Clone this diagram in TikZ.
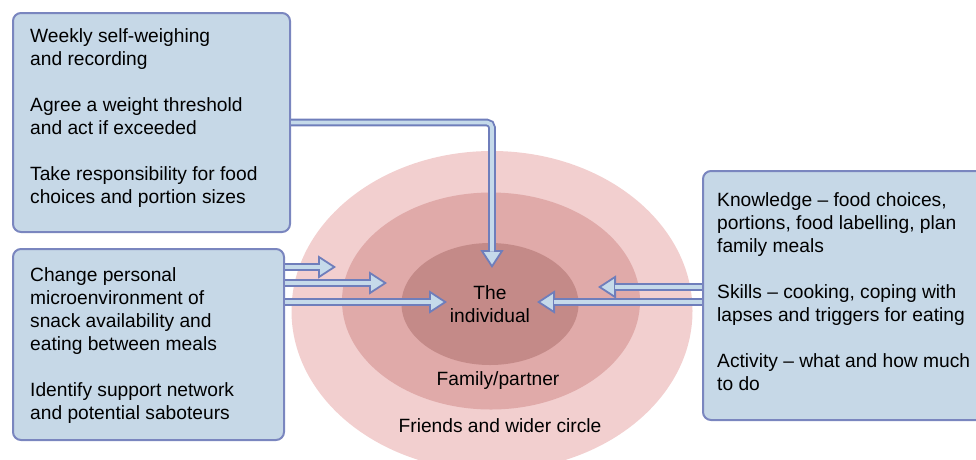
\documentclass[tikz,border=0pt]{standalone}
\usepackage{fontspec}
\setmainfont{Liberation Sans}
\usetikzlibrary{arrows.meta,shapes.geometric}
\definecolor{boxfill}{HTML}{C6D8E7}
\definecolor{boxline}{HTML}{7A86BF}
\definecolor{arrfill}{HTML}{C5DAEA}
\definecolor{arrline}{HTML}{6F7EBB}
\definecolor{ringout}{HTML}{F2CFCF}
\definecolor{ringmid}{HTML}{E0AAA9}
\definecolor{ringin}{HTML}{C48A88}

\begin{document}
\begin{tikzpicture}
		[x=1pt,y=-1pt,
		font=\fontsize{19.2}{23}\selectfont,
		ring/.style={ellipse,inner sep=0pt},
		panel/.style={draw=boxline,line width=2pt,fill=boxfill,rounded corners=8pt,inner sep=0pt,anchor=north west},
		paneltext/.style={anchor=north west,align=left,inner sep=0pt},
		flow/.style={draw=arrline,line width=7.6pt,-{Triangle[length=18pt 0 0,width=23pt 0 0,line width=1.8pt 0,fill=arrfill]},
			postaction={draw=arrfill,line width=3.8pt,-,shorten >=16.5pt}}]
		\useasboundingbox (0,0) rectangle (976,459);
		\node[ring,fill=ringout,minimum width=401,minimum height=320] (friends) at (492,311) {};
		\node[ring,fill=ringmid,minimum width=298,minimum height=217] (family) at (491,301) {};
		\node[ring,fill=ringin,minimum width=177,minimum height=122,align=center] (self) at (490,304) {The\\individual};
		\node (familytxt) at (498,381) {Family/partner};
		\node (friendstxt) at (500,426) {Friends and wider circle};
		\node[panel,minimum width=277,minimum height=219] (weigh) at (12,12) {};
		\node[panel,minimum width=271,minimum height=191] (envir) at (12,248) {};
		\node[panel,minimum width=300,minimum height=249] (skill) at (702,170) {};
		\node[paneltext] (weightxt) at (30,28) {Weekly self-weighing\\and recording\\[23pt]Agree a weight threshold\\and act if exceeded\\[23pt]Take responsibility for food\\choices and portion sizes};
		\node[paneltext] (envirtxt) at (30,267) {Change personal\\microenvironment of\\snack availability and\\eating between meals\\[23pt]Identify support network\\and potential saboteurs};
		\node[paneltext] (skilltxt) at (717,192) {Knowledge -- food choices,\\portions, food labelling, plan\\family meals\\[23pt]Skills -- cooking, coping with\\lapses and triggers for eating\\[23pt]Activity -- what and how much\\to do};
		\coordinate (w1) at (492,268);
		\coordinate (e1) at (336,267);
		\coordinate (e2) at (387,283);
		\coordinate (e3) at (447,302);
		\coordinate (s1) at (598,287);
		\coordinate (s2) at (537,302);
		\draw[flow,rounded corners=5pt] (weigh.east) -| (w1);
		\foreach \c in {e1,e2,e3}
			\draw[flow] (envir.east |- \c) -- (\c);
		\foreach \c in {s1,s2}
			\draw[flow] (skill.west |- \c) -- (\c);
\end{tikzpicture}
\end{document}
